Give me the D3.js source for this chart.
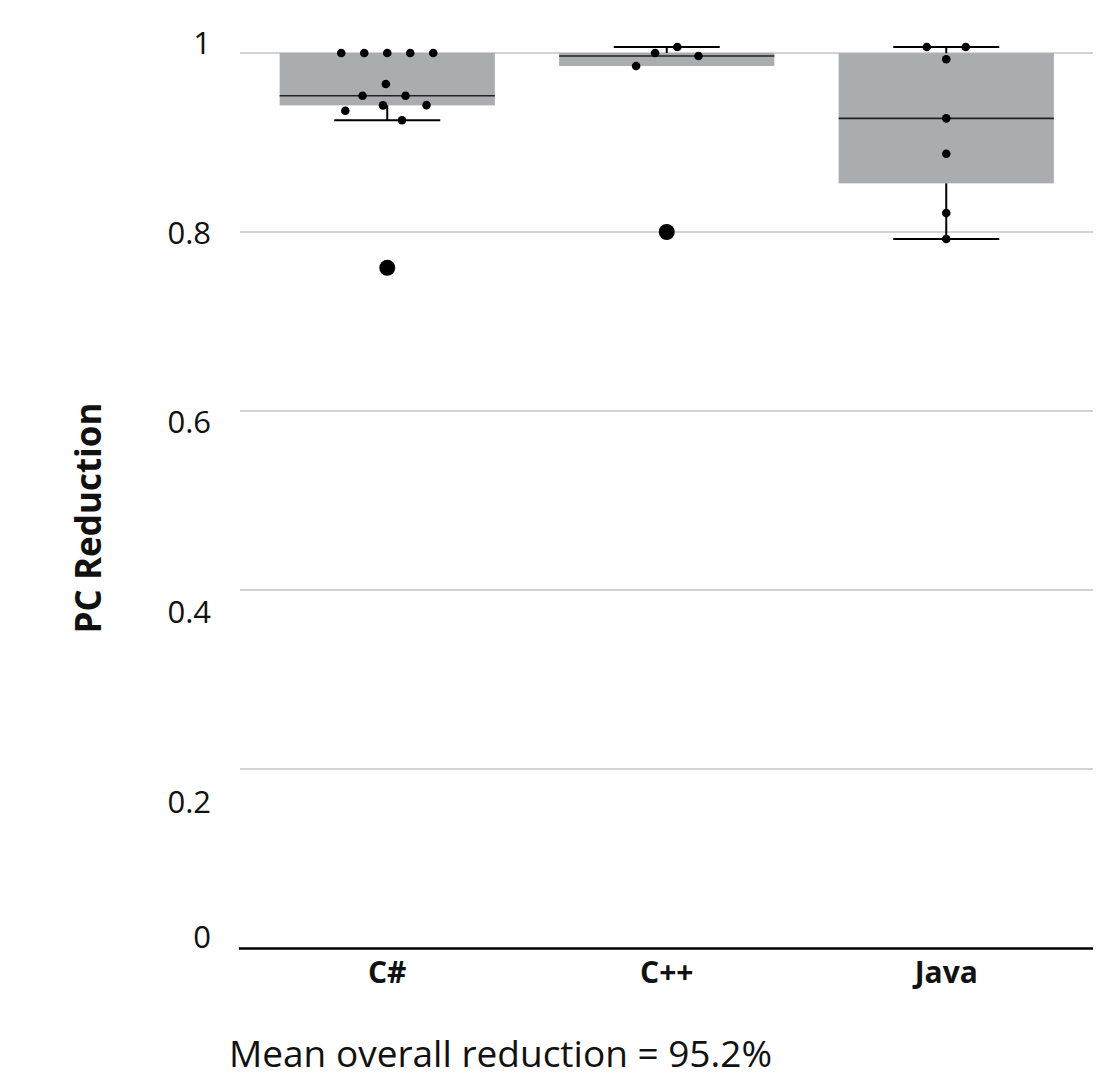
<!DOCTYPE html>
<html>
<head>
<meta charset="utf-8">
<script src="https://cdnjs.cloudflare.com/ajax/libs/d3/7.8.5/d3.min.js"></script>
<style>
	body { margin: 0; background: #fff; }
	svg { display: block; font-family: "Open Sans", sans-serif; }
	.grid { stroke: #c4c4c4; stroke-width: 1.3; }
	.baseAxis { stroke: #000; stroke-width: 2.5; }
	.box { fill: #a9adb0; }
	.median { stroke: #222; stroke-width: 1.6; }
	.whisker { stroke: #000; stroke-width: 2; }
	.tickText { font-size: 31px; fill: #111; }
	.catText { font-size: 30px; font-weight: 700; fill: #111; }
	.yTitle { font-size: 35px; font-weight: 700; fill: #111; }
	.footnote { font-size: 37px; fill: #111; }
</style>
</head>
<body>
<div id="chart"></div>
<script>

//--------------------------------- Data ---------------------------------------

var categories = ["C#", "C++", "Java"];

//PC reduction per program
var csharpValues = [1, 1, 1, 1, 1, 0.9653, 0.9523, 0.9523, 0.9418, 0.9415, 0.9355, 0.9248, 0.76];
var cppValues = [1.0067, 1.0, 0.9966, 0.9855, 0.8];
var javaValues = [1.0067, 1.0067, 0.993, 0.927, 0.8875, 0.8212, 0.7922];

var yTicks = [0, 0.2, 0.4, 0.6, 0.8, 1];
var yTickLabels = ["0", "0.2", "0.4", "0.6", "0.8", "1"];

var yTitle = "PC Reduction";
var footnote = "Mean overall reduction = 95.2%";

var seriesValues = [csharpValues, cppValues, javaValues];

//--------------------------------- Set up svg ---------------------------------------

var width = 1113,
	height = 1078;

var svg = d3.select("#chart")
	.append("svg")
	.attr("width", width)
	.attr("height", height);

var plotLeft = 240,
	plotRight = 1093,
	plotTop = 53,
	plotBottom = 948;

//--------------------------------- Scales ---------------------------------------

var y = d3.scaleLinear()
	.domain([0, 1])
	.range([plotBottom, plotTop]);

var x = d3.scaleBand()
	.domain(categories)
	.range([247.5, 1086])
	.paddingInner(0)
	.paddingOuter(0);

//labels sit a little off the gridlines in the original
var labelY = d3.scaleLinear()
	.domain([0.2, 1])
	.range([802, 43]);

function cx(c) { return x(c) + x.bandwidth() / 2; }

var boxWidth = x.bandwidth() * 0.77,
	capWidth = 106;

//--------------------------------- Box stats ---------------------------------------

var stats = categories.map(function(c, i) {
	var v = seriesValues[i].slice().sort(d3.ascending);
	var q1 = d3.quantile(v, 0.25),
		med = d3.quantile(v, 0.5),
		q3 = d3.quantile(v, 0.75),
		iqr = q3 - q1,
		lo = q1 - 1.5 * iqr,
		hi = q3 + 1.5 * iqr;
	var inside = v.filter(function(d) { return d >= lo && d <= hi; });
	return {
		cat: c,
		q1: q1, med: med, q3: q3,
		wLow: d3.min(inside),
		wHigh: d3.max(inside),
		outliers: v.filter(function(d) { return d < lo || d > hi; })
	};
});

//--------------------------------- Grid and axis ---------------------------------------

svg.selectAll(".grid")
	.data(yTicks.filter(function(d) { return d > 0; }))
	.enter().append("line")
	.attr("class", "grid")
	.attr("x1", plotLeft)
	.attr("x2", plotRight)
	.attr("y1", function(d) { return y(d); })
	.attr("y2", function(d) { return y(d); });

svg.append("line")
	.attr("class", "baseAxis")
	.attr("x1", plotLeft - 1)
	.attr("x2", plotRight)
	.attr("y1", y(0) + 0.5)
	.attr("y2", y(0) + 0.5);

svg.selectAll(".tickText")
	.data(yTicks)
	.enter().append("text")
	.attr("class", "tickText")
	.attr("x", 211)
	.attr("y", function(d) { return Math.min(labelY(d), y(0) - 11); })
	.attr("dy", "0.35em")
	.style("text-anchor", "end")
	.text(function(d, i) { return yTickLabels[i]; });

svg.selectAll(".catText")
	.data(categories)
	.enter().append("text")
	.attr("class", "catText")
	.attr("x", function(d) { return cx(d); })
	.attr("y", 983)
	.style("text-anchor", "middle")
	.text(function(d) { return d; });

svg.append("text")
	.attr("class", "yTitle")
	.attr("transform", "translate(101,518) rotate(-90)")
	.style("text-anchor", "middle")
	.text(yTitle);

svg.append("text")
	.attr("class", "footnote")
	.attr("x", 229)
	.attr("y", 1067)
	.text(footnote);

//--------------------------------- Boxes ---------------------------------------

var boxG = svg.selectAll(".boxG")
	.data(stats)
	.enter().append("g")
	.attr("class", "boxG");

boxG.append("rect")
	.attr("class", "box")
	.attr("x", function(d) { return cx(d.cat) - boxWidth / 2; })
	.attr("width", boxWidth)
	.attr("y", function(d) { return y(d.q3); })
	.attr("height", function(d) { return y(d.q1) - y(d.q3); });

boxG.append("line")
	.attr("class", "median")
	.attr("x1", function(d) { return cx(d.cat) - boxWidth / 2; })
	.attr("x2", function(d) { return cx(d.cat) + boxWidth / 2; })
	.attr("y1", function(d) { return y(d.med); })
	.attr("y2", function(d) { return y(d.med); });

//whiskers only where they reach past the box
var whiskers = [];
stats.forEach(function(s) {
	if (s.wHigh > s.q3) whiskers.push({cat: s.cat, from: s.q3, to: s.wHigh});
	if (s.wLow < s.q1) whiskers.push({cat: s.cat, from: s.q1, to: s.wLow});
});

svg.selectAll(".whiskerLine")
	.data(whiskers)
	.enter().append("line")
	.attr("class", "whisker")
	.attr("x1", function(d) { return cx(d.cat); })
	.attr("x2", function(d) { return cx(d.cat); })
	.attr("y1", function(d) { return y(d.from); })
	.attr("y2", function(d) { return y(d.to); });

svg.selectAll(".whiskerCap")
	.data(whiskers)
	.enter().append("line")
	.attr("class", "whisker")
	.attr("x1", function(d) { return cx(d.cat) - capWidth / 2; })
	.attr("x2", function(d) { return cx(d.cat) + capWidth / 2; })
	.attr("y1", function(d) { return y(d.to); })
	.attr("y2", function(d) { return y(d.to); });

//--------------------------------- Points (swarm) ---------------------------------------

//y is pinned to the value, the simulation only spreads the dots sideways
var nodes = [];
categories.forEach(function(c, i) {
	seriesValues[i].forEach(function(v) {
		nodes.push({cat: c, value: v, x: cx(c), y: y(v), fy: y(v)});
	});
});

var sim = d3.forceSimulation(nodes)
	.force("x", d3.forceX(function(d) { return cx(d.cat); }).strength(0.1))
	.force("collide", d3.forceCollide(11.5))
	.stop();
for (var t = 0; t < 300; t++) sim.tick();

svg.selectAll(".dot")
	.data(nodes)
	.enter().append("circle")
	.attr("class", "dot")
	.attr("cx", function(d) { return d.x; })
	.attr("cy", function(d) { return d.y; })
	.attr("r", 4.3)
	.style("fill", "#000");

var outliers = [];
stats.forEach(function(s) {
	s.outliers.forEach(function(v) { outliers.push({cat: s.cat, value: v}); });
});

svg.selectAll(".outlier")
	.data(outliers)
	.enter().append("circle")
	.attr("class", "outlier")
	.attr("cx", function(d) { return cx(d.cat); })
	.attr("cy", function(d) { return y(d.value); })
	.attr("r", 8)
	.style("fill", "#000");

</script>
</body>
</html>
